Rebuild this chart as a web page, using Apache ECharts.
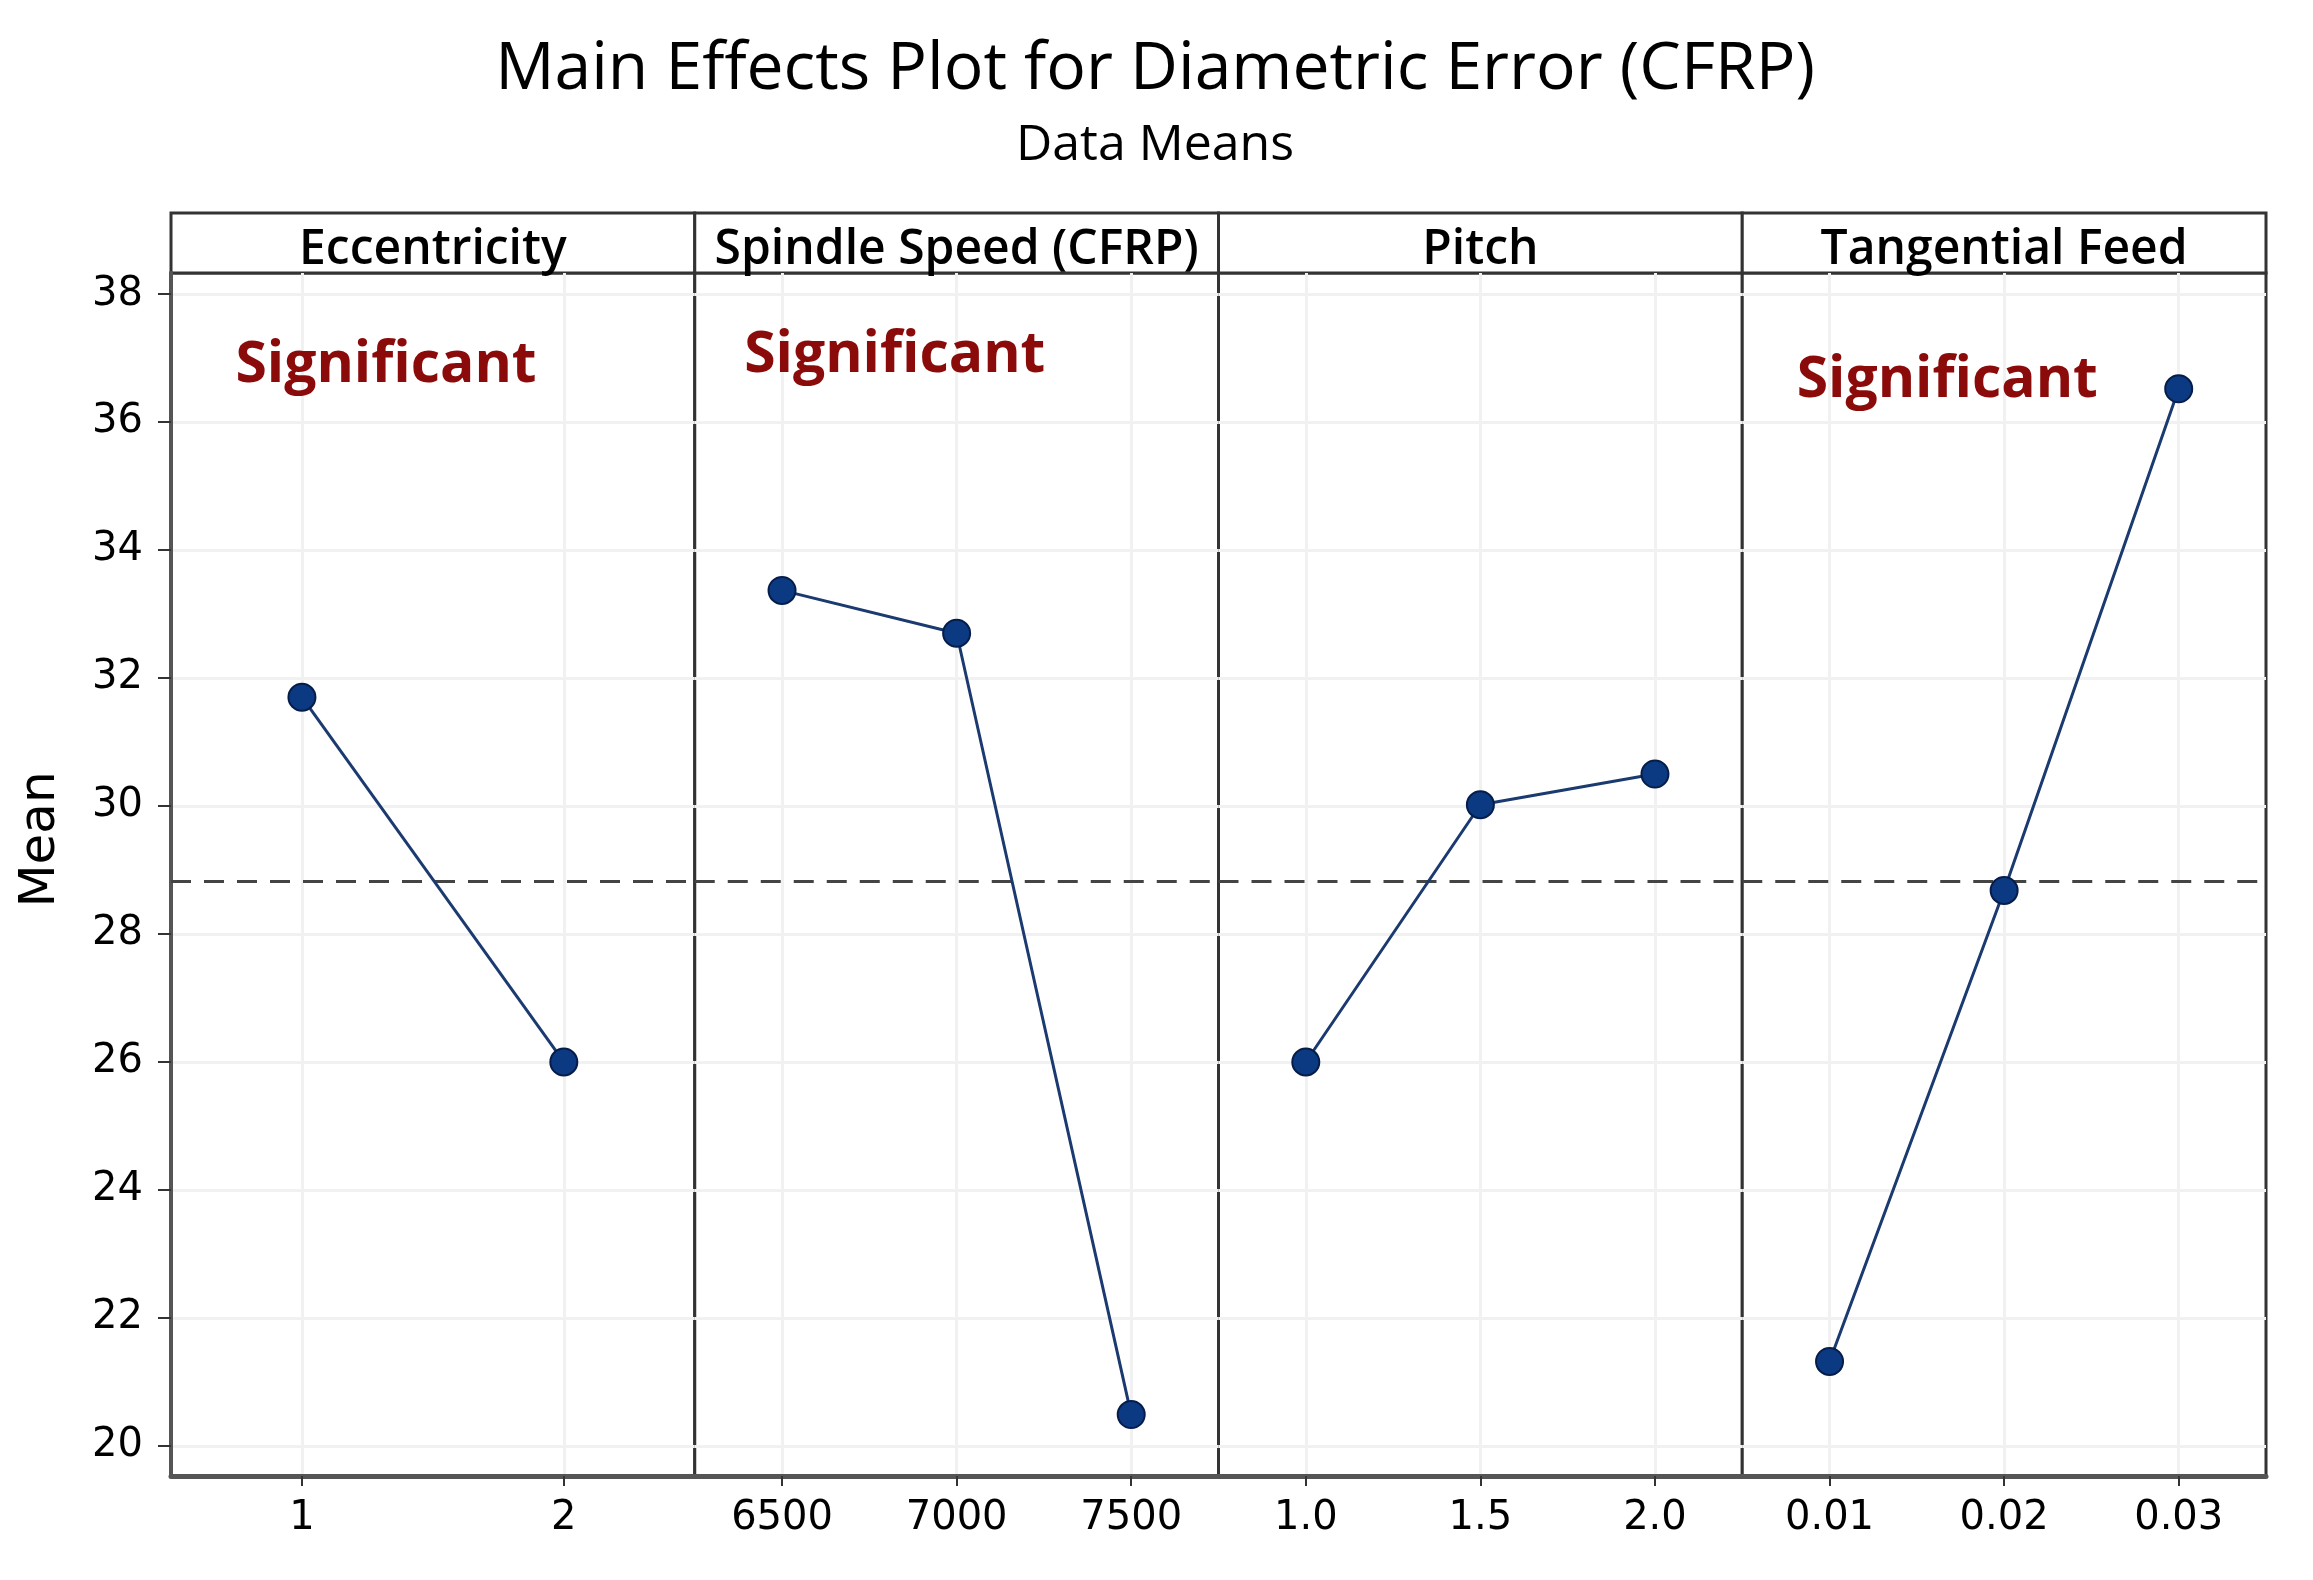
<!DOCTYPE html>
<html>
<head>
<meta charset="utf-8">
<script src="https://cdn.jsdelivr.net/npm/echarts@6/dist/echarts.min.js"></script>
<style>
  html, body { margin: 0; padding: 0; background: #fff; }
  #chart { width: 2313px; height: 1580px; }
</style>
</head>
<body>
<div id="chart"></div>
<script>
// ---- data ----
const factorNames = ['Eccentricity', 'Spindle Speed (CFRP)', 'Pitch', 'Tangential Feed'];
const eccLevels = ['1', '2'];
const eccMeans = [31.70, 26.00];
const speedLevels = ['6500', '7000', '7500'];
const speedMeans = [33.37, 32.70, 20.49];
const pitchLevels = ['1.0', '1.5', '2.0'];
const pitchMeans = [26.00, 30.02, 30.50];
const feedLevels = ['0.01', '0.02', '0.03'];
const feedMeans = [21.32, 28.68, 36.52];
const overallMean = 28.83;
const yTicks = [20, 22, 24, 26, 28, 30, 32, 34, 36, 38];
const significantFlags = [true, true, false, true];
const titleText = 'Main Effects Plot for Diametric Error (CFRP)';
const subtitleText = 'Data Means';
const yName = 'Mean';
const annotationText = 'Significant';

// ---- layout ----
const boxLeft = 171, boxRight = 2266, boxTop = 213, headerBottom = 273, boxBottom = 1476;
const panelW = (boxRight - boxLeft) / 4;
const yMin = 19.53, yMax = 38.33;
const levelsList = [eccLevels, speedLevels, pitchLevels, feedLevels];
const meansList = [eccMeans, speedMeans, pitchMeans, feedMeans];
const sigPos = [[215, 366], [200, 356], null, [205, 381]];

const grids = [], xAxes = [], yAxes = [], series = [], graphics = [];
for (let i = 0; i < 4; i++) {
  const left = boxLeft + i * panelW;
  grids.push({
    left: left, top: headerBottom, width: panelW, height: boxBottom - headerBottom,
    show: true, borderColor: '#333', borderWidth: 3, backgroundColor: '#fff'
  });
  xAxes.push({
    type: 'category', gridIndex: i, data: levelsList[i], boundaryGap: true,
    axisLine: { show: true, lineStyle: { color: '#555', width: 5 } },
    axisTick: { show: true, alignWithLabel: true, length: 10, lineStyle: { color: '#333', width: 2 } },
    axisLabel: { fontFamily: 'DejaVu Sans', fontSize: 40, color: '#000', margin: 23, interval: 0 },
    splitLine: { show: true, alignWithLabel: true, interval: 0, lineStyle: { color: '#f1f1f1', width: 3 } }
  });
  yAxes.push({
    type: 'value', gridIndex: i, min: yMin, max: yMax,
    name: i === 0 ? yName : '',
    nameLocation: 'middle', nameGap: 105,
    nameTextStyle: { fontFamily: 'DejaVu Sans', fontSize: 50, color: '#000', padding: [0, 0, 0, 70] },
    axisLine: { show: i === 0, lineStyle: { color: '#555', width: 4 } },
    axisTick: { show: i === 0, customValues: yTicks, length: 13, lineStyle: { color: '#333', width: 2 } },
    axisLabel: { show: i === 0, customValues: yTicks, fontFamily: 'DejaVu Sans', fontSize: 40, color: '#000', margin: 28 },
    splitLine: { show: true, customValues: yTicks, lineStyle: { color: '#f1f1f1', width: 3 } }
  });
  series.push({
    type: 'line', xAxisIndex: i, yAxisIndex: i, data: meansList[i],
    symbol: 'circle', symbolSize: 27,
    lineStyle: { color: '#1b3a6f', width: 3 },
    itemStyle: { color: '#0c3a82', borderColor: '#061d4a', borderWidth: 2 },
    z: 5,
    markLine: {
      silent: true, symbol: 'none', label: { show: false },
      lineStyle: { color: '#444', width: 3, type: [20, 13] },
      data: [{ yAxis: overallMean }]
    }
  });
  // header strip
  graphics.push({
    type: 'rect', shape: { x: left, y: boxTop, width: panelW, height: headerBottom - boxTop },
    style: { fill: '#fff', stroke: '#333', lineWidth: 3 }
  });
  graphics.push({
    type: 'text', x: left + panelW / 2, y: 250,
    style: { text: factorNames[i], fontFamily: 'Open Sans', fontWeight: 600, fontSize: 48, fill: '#000',
             align: 'center', verticalAlign: 'middle' }
  });
  if (significantFlags[i]) {
    graphics.push({
      type: 'text', x: left + sigPos[i][0], y: sigPos[i][1], z: 10,
      style: { text: annotationText, fontFamily: 'Open Sans', fontWeight: 'bold', fontSize: 57,
               fill: '#8b0a0a', align: 'center', verticalAlign: 'middle' }
    });
  }
}

const chart = echarts.init(document.getElementById('chart'));
chart.setOption({
  backgroundColor: '#fff',
  animation: false,
  title: [
    { text: titleText, left: 1150, top: 32, textAlign: 'center',
      textStyle: { fontFamily: 'Open Sans', fontSize: 66, fontWeight: 'normal', color: '#000' } },
    { text: subtitleText, left: 1150, top: 116, textAlign: 'center',
      textStyle: { fontFamily: 'Open Sans', fontSize: 50, fontWeight: 'normal', color: '#000' } }
  ],
  grid: grids,
  xAxis: xAxes,
  yAxis: yAxes,
  series: series,
  graphic: graphics
});
</script>
</body>
</html>
